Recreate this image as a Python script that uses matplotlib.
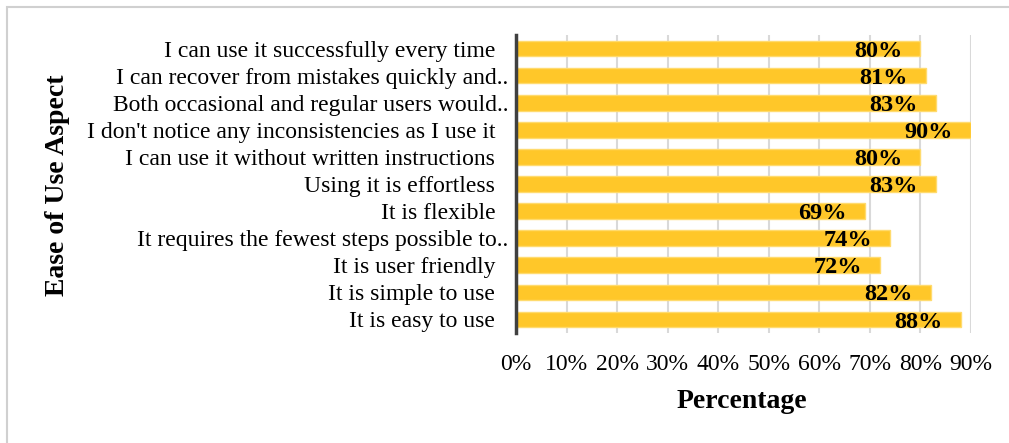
import matplotlib.pyplot as plt
from matplotlib.patches import Rectangle
from matplotlib.transforms import ScaledTranslation

# Survey results, listed bottom to top
aspects = [
    "It is easy to use",
    "It is simple to use",
    "It is user friendly",
    "It requires the fewest steps possible to..",
    "It is flexible",
    "Using it is effortless",
    "I can use it without written instructions",
    "I don't notice any inconsistencies as I use it",
    "Both occasional and regular users would..",
    "I can recover from mistakes quickly and..",
    "I can use it successfully every time",
]
percent = [88, 82, 72, 74, 69, 83, 80, 90, 83, 81, 80]
xticks = [0, 10, 20, 30, 40, 50, 60, 70, 80, 90]

plt.rcParams['font.family'] = ['Liberation Serif', 'DejaVu Serif']

fig = plt.figure(figsize=(10.09, 4.43), dpi=100)
ax = fig.add_axes([516 / 1009, 1 - 333 / 443, 455 / 1009, 298 / 443])

pos = list(range(len(aspects)))
ax.barh(pos, percent, height=0.58, color='#FFC729', edgecolor='#FFDB6E',
        linewidth=1, zorder=2)

for y, v in zip(pos, percent):
    ax.annotate(f"{v}%", (v, y), xytext=(-13, -5.8), textcoords='offset points',
                ha='right', va='baseline', fontsize=17.5, fontweight='bold',
                color='black', zorder=3)

ax.set_xlim(0, 90)
ax.set_ylim(-0.5, len(aspects) - 0.5)
ax.set_xticks(xticks)
ax.set_xticklabels([f"{t}%" for t in xticks])
ax.set_yticks(pos)
ax.set_yticklabels(aspects)

ax.grid(axis='x', color='#D9D9D9', linewidth=1.5, zorder=0)
ax.set_axisbelow(True)
for side in ['top', 'right', 'bottom']:
    ax.spines[side].set_visible(False)
ax.spines['left'].set_color('#404040')
ax.spines['left'].set_linewidth(2.5)
ax.spines['left'].set_zorder(4)

ax.tick_params(axis='x', length=0, pad=15, labelsize=17)
ax.tick_params(axis='y', length=0, pad=15, labelsize=17)

# truncated labels hang a little further right, like the ellipsis in the source
for lab in ax.get_yticklabels():
    if lab.get_text().endswith('..'):
        lab.set_transform(lab.get_transform() +
                          ScaledTranslation(13 / 100, 0, fig.dpi_scale_trans))

fig.text(742 / 1009, 1 - 402 / 443, "Percentage", ha='center', va='center',
         fontsize=20, fontweight='bold')
fig.text(57 / 1009, 1 - 185 / 443, "Ease of Use Aspect", ha='center',
         va='center', rotation=90, fontsize=20, fontweight='bold')

# chart area border
fig.patches.append(Rectangle((7 / 1009, -0.1), 1.2, 1 - 7 / 443 + 0.1,
                             transform=fig.transFigure, fill=False,
                             edgecolor='#D0D0D0', linewidth=1.5))

fig.savefig('out.png', dpi=100)
